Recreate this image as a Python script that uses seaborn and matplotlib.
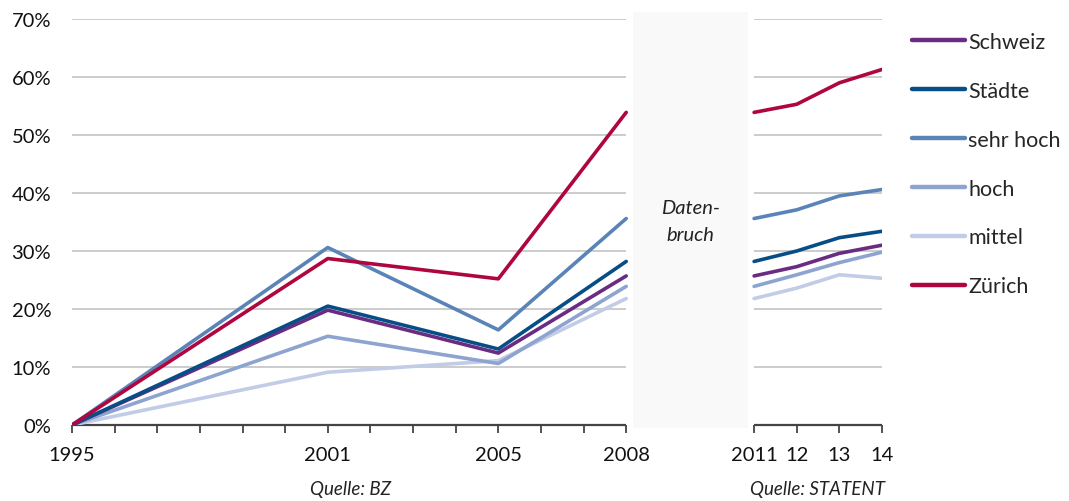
import matplotlib
matplotlib.use("Agg")
import matplotlib.pyplot as plt
import numpy as np
import pandas as pd
import seaborn as sns
from matplotlib.lines import Line2D
from matplotlib.patches import Rectangle

# ---------------- data ----------------
years_bz = [1995, 2001, 2005, 2008]
years_statent = [2011, 2012, 2013, 2014]
series = ["Schweiz", "Städte", "sehr hoch", "hoch", "mittel", "Zürich"]

schweiz_bz = [0.0, 19.8, 12.4, 25.7]
staedte_bz = [0.0, 20.5, 13.1, 28.2]
sehrhoch_bz = [0.0, 30.6, 16.4, 35.6]
hoch_bz = [0.0, 15.3, 10.6, 23.9]
mittel_bz = [0.0, 9.1, 11.1, 21.8]
zuerich_bz = [0.0, 28.7, 25.2, 53.9]

schweiz_st = [25.7, 27.3, 29.6, 31.0]
staedte_st = [28.2, 30.0, 32.3, 33.4]
sehrhoch_st = [35.6, 37.1, 39.5, 40.6]
hoch_st = [23.9, 25.9, 28.0, 29.8]
mittel_st = [21.8, 23.6, 25.9, 25.3]
zuerich_st = [53.9, 55.3, 59.0, 61.3]

major_ticks = [1995, 2001, 2005, 2008, 2011, 2012, 2013, 2014]
major_labels = ["1995", "2001", "2005", "2008", "2011", "12", "13", "14"]
minor_ticks = [1996, 1997, 1998, 1999, 2000, 2002, 2003, 2004, 2006, 2007]
y_ticks = [0.0, 0.1, 0.2, 0.3, 0.4, 0.5, 0.6, 0.7]
y_labels = ["0%", "10%", "20%", "30%", "40%", "50%", "60%", "70%"]

colors = {
    "Schweiz": "#6a2b82",
    "Städte": "#074d86",
    "sehr hoch": "#5a84b7",
    "hoch": "#8da4d1",
    "mittel": "#c2cce6",
    "Zürich": "#b0063f",
}

bz = {"Schweiz": schweiz_bz, "Städte": staedte_bz, "sehr hoch": sehrhoch_bz,
      "hoch": hoch_bz, "mittel": mittel_bz, "Zürich": zuerich_bz}
st = {"Schweiz": schweiz_st, "Städte": staedte_st, "sehr hoch": sehrhoch_st,
      "hoch": hoch_st, "mittel": mittel_st, "Zürich": zuerich_st}

def long_df(d, years):
    rows = []
    for s, vals in d.items():
        for y, v in zip(years, vals):
            rows.append({"Jahr": y, "Wert": v / 100.0, "Gebiet": s})
    return pd.DataFrame(rows)

df_bz = long_df(bz, years_bz)
df_st = long_df(st, years_statent)

# ---------------- style ----------------
sns.set_theme(style="white")
plt.rcParams["font.family"] = ["Lato", "DejaVu Sans"]

fig = plt.figure(figsize=(10.69, 5.02), dpi=100)
ax = fig.add_axes([72 / 1069, 1 - 426 / 502, (882 - 72) / 1069, (426 - 20) / 502])

draw_order = ["mittel", "hoch", "sehr hoch", "Schweiz", "Städte", "Zürich"]
lw = 2.6
for df in (df_bz, df_st):
    sns.lineplot(data=df, x="Jahr", y="Wert", hue="Gebiet", hue_order=draw_order,
                 palette=colors, linewidth=lw, ax=ax, legend=False, zorder=3)

ax.set_xlim(1995, 2014)
ax.set_ylim(0, 0.7)

# gridlines in two segments
grid_c = "#c8c8c8"
for yv in y_ticks[1:]:
    ax.hlines(yv, 1995, 2008, color=grid_c, lw=1.3, zorder=1)
    ax.hlines(yv, 2011, 2014, color=grid_c, lw=1.3, zorder=1)
ax.hlines(0, 1995, 2008, color="#444444", lw=1.6, zorder=2, clip_on=False)
ax.hlines(0, 2011, 2014, color="#444444", lw=1.6, zorder=2, clip_on=False)

# data break box
ax.add_patch(Rectangle((2008.15, -0.005), 2010.85 - 2008.15, 0.717,
                       facecolor="#f9f9f9", edgecolor="none", zorder=0.5, clip_on=False))
ax.text(2009.5, 0.352, "Daten-\nbruch", ha="center", va="center", fontsize=14.5,
        style="italic", color="#222222", linespacing=1.75, zorder=4)

for sp in ax.spines.values():
    sp.set_visible(False)

ax.set_xticks(major_ticks)
ax.set_xticklabels(major_labels)
ax.set_xticks(minor_ticks, minor=True)
ax.tick_params(axis="x", which="both", direction="out", length=6, width=1.3,
               color="#444444", bottom=True, labelsize=14.5, pad=9, labelcolor="#111111")
ax.tick_params(axis="x", which="minor", labelbottom=False)
ax.set_yticks(y_ticks)
ax.set_yticklabels(y_labels)
ax.tick_params(axis="y", length=0, labelsize=14.5, pad=15, labelcolor="#111111")
ax.set_xlabel("")
ax.set_ylabel("")
ax.grid(False)

# legend
handles = [Line2D([0], [0], color=colors[s], lw=3.2) for s in series]
fig.legend(handles, series, loc="upper left", bbox_to_anchor=(912 / 1069, 1 - 33 / 502),
           frameon=False, fontsize=15.5, handlelength=2.47, handletextpad=0.15,
           labelspacing=1.34, borderpad=0, borderaxespad=0)

fig.text(350 / 1069, 1 - 490 / 502, "Quelle: BZ", ha="center", va="center",
         fontsize=13.5, style="italic", color="#222222")
fig.text(818 / 1069, 1 - 490 / 502, "Quelle: STATENT", ha="center", va="center",
         fontsize=13.5, style="italic", color="#222222")

fig.savefig("out.png", dpi=100)
